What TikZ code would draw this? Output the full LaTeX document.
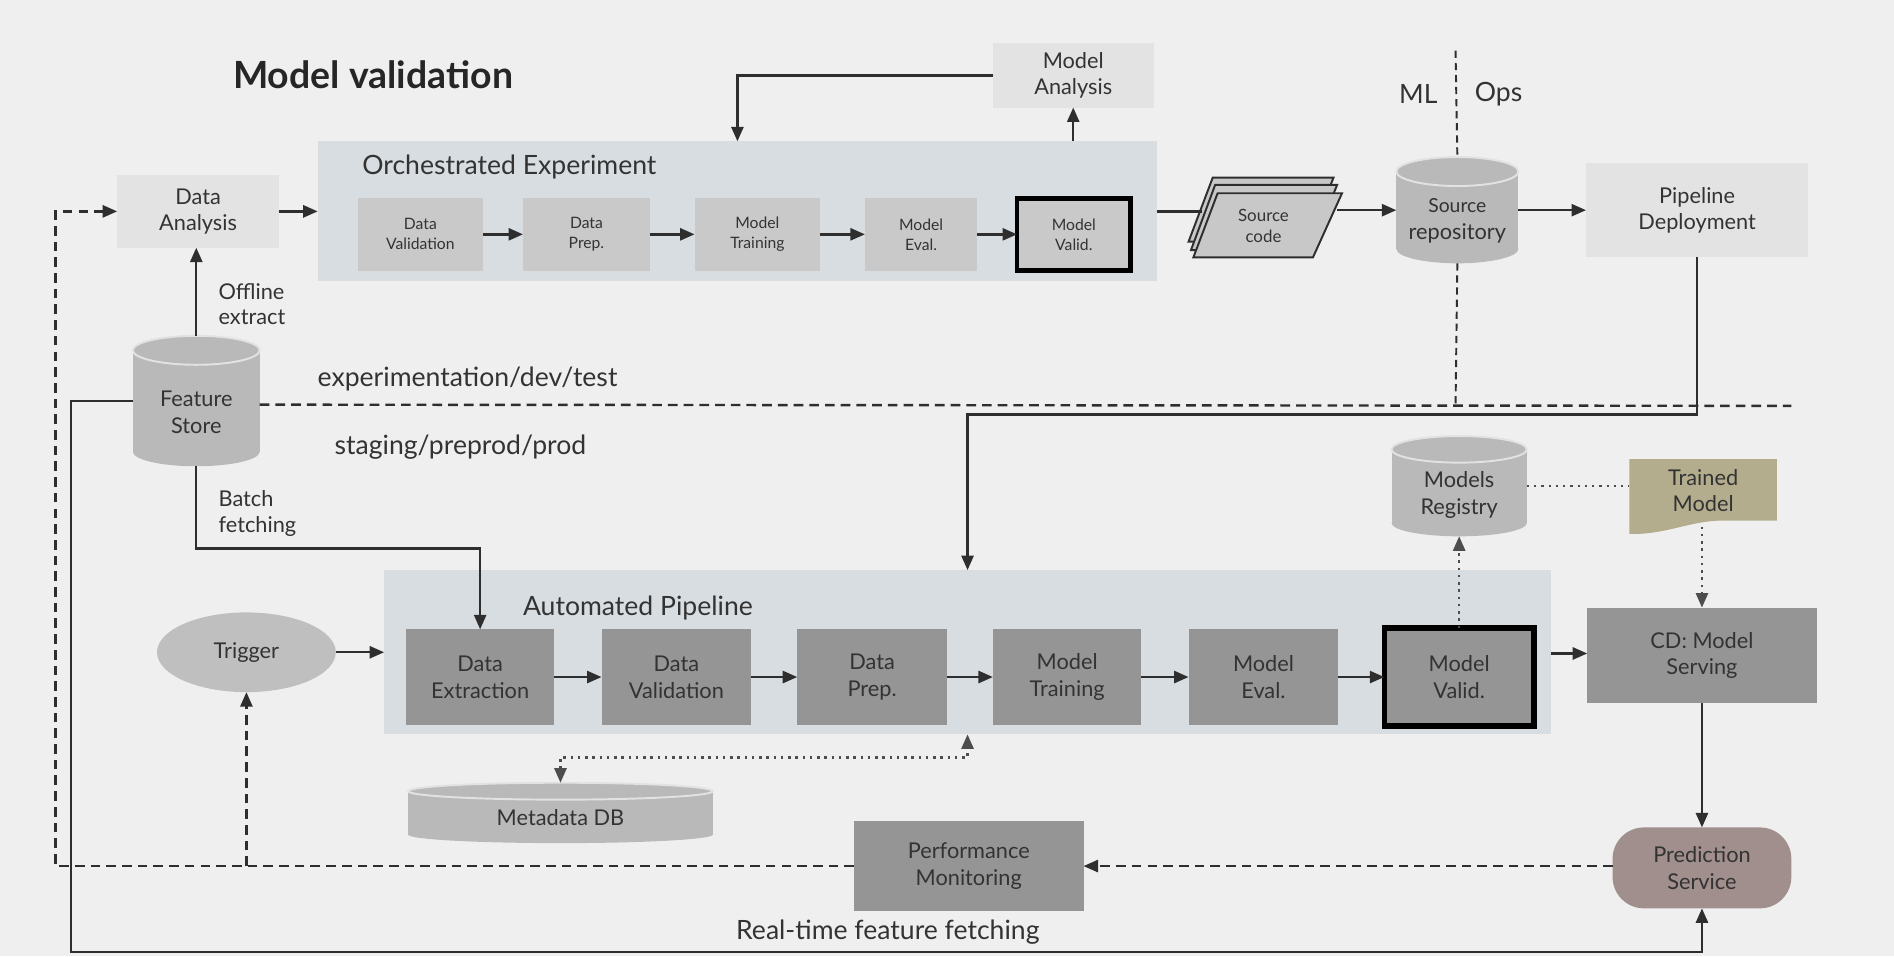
\documentclass[tikz,border=0pt]{standalone}
\usepackage{fontspec}
\setmainfont{Lato}
\usetikzlibrary{arrows.meta,shapes.geometric}
\definecolor{bgc}{HTML}{EFEFEF}
\definecolor{contc}{HTML}{D8DDE1}
\definecolor{lightc}{HTML}{E3E3E3}
\definecolor{topc}{HTML}{C9C9C9}
\definecolor{botc}{HTML}{959595}
\definecolor{cylc}{HTML}{B9B9B9}
\definecolor{cyledge}{HTML}{E2E2E2}
\definecolor{trigc}{HTML}{BFBFBF}
\definecolor{trainc}{HTML}{B3AD8D}
\definecolor{predc}{HTML}{A08F8C}
\definecolor{txtc}{HTML}{333333}
\definecolor{linec}{HTML}{2E2E2E}
\definecolor{srcc}{HTML}{C8C8C8}

\newcommand\placebox[7]{\node[#6, minimum width={(#4-#2)*0.5pt}, minimum height={(#5-#3)*0.5pt}] (#1) at ({(#2+#4)/2},{(#3+#5)/2}) {#7};}
\newcommand\placecyl[8]{%
  \fill[cylc] (#2,{#3+#6}) rectangle (#4,{#5-#6});
  \fill[cylc] ({(#2+#4)/2},{#5-#6}) ellipse [x radius={(#4-#2)*0.25pt}, y radius={#6*0.5pt}];
  \filldraw[fill=cylc, draw=cyledge, line width=0.8pt] ({(#2+#4)/2},{#3+#6}) ellipse [x radius={(#4-#2)*0.25pt}, y radius={#6*0.5pt}];
  \node[inner sep=0pt, outer sep=0pt, minimum width={(#4-#2)*0.5pt}, minimum height={(#5-#3)*0.5pt}] (#1) at ({(#2+#4)/2},{(#3+#5)/2}) {};
  \node[boxtxt, font=\fontsize{9}{11}\selectfont] (#1-t) at ({(#2+#4)/2},#7) {#8};
}

\tikzset{
  boxtxt/.style={align=center, text=txtc, inner sep=0pt, outer sep=0pt},
  lightbox/.style={boxtxt, fill=lightc, font=\fontsize{9}{11}\selectfont},
  cont/.style={fill=contc, inner sep=0pt, outer sep=0pt},
  topbox/.style={boxtxt, fill=topc, font=\fontsize{6.5}{8.3}\selectfont},
  botbox/.style={boxtxt, fill=botc, font=\fontsize{9}{11}\selectfont},
  validtop/.style={topbox, draw=black, line width=2pt},
  validbot/.style={botbox, draw=black, line width=2.2pt},
  predbox/.style={boxtxt, fill=predc, rounded corners=13pt, font=\fontsize{9}{11}\selectfont},
  trigbox/.style={boxtxt, ellipse, fill=trigc, font=\fontsize{9}{11}\selectfont},
  lbl/.style={text=txtc, inner sep=0pt, outer sep=0pt},
  conn/.style={draw=linec, line width=1pt},
  arr/.style={conn, -{Triangle[length=6pt,width=5pt]}},
  dsh/.style={conn, dash pattern=on 4pt off 2.5pt},
  darr/.style={dsh, -{Triangle[length=6pt,width=5pt]}},
  mldash/.style={draw=linec, line width=0.8pt, dash pattern=on 3pt off 2pt},
  dotl/.style={draw=linec!85, line width=1pt, dash pattern=on 1pt off 2pt},
  dotarr/.style={dotl, -{Triangle[length=6pt,width=5pt]}},
  srcsheet/.style={fill=srcc, draw=linec, line width=0.8pt, line join=miter},
}

\begin{document}
\begin{tikzpicture}[x=0.5pt,y=-0.5pt]
\useasboundingbox (0,0) rectangle (1568,791.5);
\fill[bgc] (0,0) rectangle (1568,791.5);

% title
\node[lbl, anchor=west, font=\fontsize{15.5}{18}\selectfont\bfseries, text=black!85] (title) at (193,62) {Model validation};

% containers
\placebox{oe}{263}{117}{958}{233}{cont}{}
\placebox{ap}{318}{472}{1284}{608}{cont}{}
\node[lbl, anchor=west, font=\fontsize{11}{13}\selectfont] (oet) at (300,138) {Orchestrated Experiment};
\node[lbl, anchor=west, font=\fontsize{11}{13}\selectfont] (apt) at (433,503) {Automated Pipeline};

% top row
\placebox{da}{97}{145}{231}{205}{lightbox}{Data\\Analysis}
\placebox{ma}{822}{36}{955}{89}{lightbox}{Model\\Analysis}
\placebox{pd}{1313}{135}{1497}{213}{lightbox}{Pipeline\\Deployment}
\placebox{dv1}{296}{164}{400}{224}{topbox}{Data\\Validation}
\placebox{dp1}{433}{164}{538}{224}{topbox}{Data\\Prep.}
\placebox{mt1}{575}{164}{679}{224}{topbox}{Model\\Training}
\placebox{me1}{716}{164}{809}{224}{topbox}{Model\\Eval.}
\placebox{mv1}{842}{164}{936}{224}{validtop}{Model\\Valid.}

% source code stack
\draw[srcsheet] (1004,147) -- (1104,147) -- (1083,200) -- (984,200) -- cycle;
\draw[srcsheet] (1006,153) -- (1107,153) -- (1085,207) -- (986,207) -- cycle;
\draw[srcsheet] (1008,160) -- (1111,160) -- (1087,213) -- (988,213) -- cycle;
\node[boxtxt, font=\fontsize{7}{8.5}\selectfont] (sc) at (1046,187) {Source\\code};
\coordinate (scin) at (995,175);
\coordinate (scout) at (1107,174);

% cylinders
\placecyl{fs}{110}{278}{215}{386}{12}{341.5}{Feature\\Store}
\placecyl{srep}{1156}{130}{1257}{218}{12}{183}{\fontsize{8}{10}\selectfont Source\\repository}
\placecyl{mr}{1152}{361}{1264}{444}{11}{410}{Models\\Registry}
\placecyl{mdb}{338}{648}{590}{698}{7}{677}{Metadata DB}

% bottom row
\placebox{trig}{130}{507}{278}{573}{trigbox}{Trigger}
\placebox{de}{336}{521}{459}{600}{botbox}{Data\\Extraction}
\placebox{dv2}{498}{521}{622}{600}{botbox}{Data\\Validation}
\placebox{dp2}{660}{521}{784}{600}{botbox}{Data\\Prep.}
\placebox{mt2}{822}{521}{945}{600}{botbox}{Model\\Training}
\placebox{me2}{984}{521}{1108}{600}{botbox}{Model\\Eval.}
\placebox{mv2}{1146}{520}{1270}{601}{validbot}{Model\\Valid.}
\placebox{cd}{1314}{503}{1504}{582}{botbox}{CD: Model\\Serving}
\placebox{pm}{707}{680}{897}{754}{botbox}{Performance\\Monitoring}
\placebox{ps}{1335}{685}{1483}{752}{predbox}{Prediction\\Service}

% trained model
\fill[trainc] (1349,380) -- (1471,380) -- (1471,431) -- (1425,431) .. controls (1400,431) and (1378,443) .. (1349,442) -- cycle;
\node[boxtxt, minimum width=61pt, minimum height=26pt, font=\fontsize{9}{11}\selectfont] (tm) at (1410,406) {Trained\\Model};
\coordinate (tmb) at (1409,436);

% labels
\node[lbl, anchor=west, font=\fontsize{11}{13}\selectfont] (envtop) at (263,314) {experimentation/dev/test};
\node[lbl, anchor=west, font=\fontsize{11}{13}\selectfont] (envbot) at (277,370) {staging/preprod/prod};
\node[lbl, anchor=east, font=\fontsize{11}{13}\selectfont] (ml) at (1190,78) {ML};
\node[lbl, anchor=west, font=\fontsize{11}{13}\selectfont] (ops) at (1221,78) {Ops};
\node[lbl, anchor=west, align=left, font=\fontsize{9}{10.5}\selectfont] (offl) at (181,252) {Offline\\extract};
\node[lbl, anchor=west, align=left, font=\fontsize{9}{10.5}\selectfont] (batch) at (181,425) {Batch\\fetching};
\node[lbl, font=\fontsize{11}{13}\selectfont] (rt) at (735,772) {Real-time feature fetching};

% helper coordinates
\coordinate (mltop) at (1205,42);
\coordinate (mlbot) at (1205,336);
\coordinate (envl) at (215,335);
\coordinate (envr) at (1483,336);

% ---- connectors: top
\draw[arr] (da.east) -- (oe.west |- da.east);
\draw[arr] (dv1.east) -- (dp1.west);
\draw[arr] (dp1.east) -- (mt1.west);
\draw[arr] (mt1.east) -- (me1.west);
\draw[arr] (me1.east) -- (mv1.west);
\draw[arr] (ma.west) -| (oe.north);
\draw[arr] (oe.north -| ma.south) -- (ma.south);
\draw[conn] (oe.east |- scin) -- (scin);
\draw[arr] (scout) -- (srep.west |- scout);
\draw[arr] (srep.east) -- (pd.west |- srep.east);
\draw[arr] (fs.north) -- (fs.north |- da.south);

% ML / Ops and environment split
\draw[mldash] (mltop) -- (srep.north);
\draw[mldash] (srep.south) -- (mlbot);
\draw[dsh] (envl) -- (envr);
\draw[arr] (pd.south) |- (ap.north |- 0,343) -- (ap.north);

% ---- connectors: bottom
\draw[arr] (fs.south) |- (de.north |- 0,454) -- (de.north);
\draw[arr] (trig.east) -- (ap.west |- trig.east);
\draw[arr] (de.east) -- (dv2.west);
\draw[arr] (dv2.east) -- (dp2.west);
\draw[arr] (dp2.east) -- (mt2.west);
\draw[arr] (mt2.east) -- (me2.west);
\draw[arr] (me2.east) -- (mv2.west |- me2.east);
\draw[arr] (ap.east |- 0,541) -- (cd.west |- 0,541);
\draw[dotarr] (mv2.north) -- (mr.south);
\draw[dotl] (mr.east) -- (mr.east -| tm.west);
\draw[dotarr] (tmb) -- (cd.north);
\draw[arr] (cd.south) -- (ps.north);
\draw[darr] (ps.west |- pm.east) -- (pm.east);
\draw[darr] (pm.west) -| (46,175) -- (da.west);
\draw[darr] (trig.south |- pm.west) -- (trig.south);
\draw[dotl, {Triangle[length=6pt,width=5pt]}-{Triangle[length=6pt,width=5pt]}] (mdb.north) |- (ap.south |- 0,627) -- (ap.south);
\draw[arr] (fs.west) -| (59,788) -| (ps.south);
\end{tikzpicture}
\end{document}
